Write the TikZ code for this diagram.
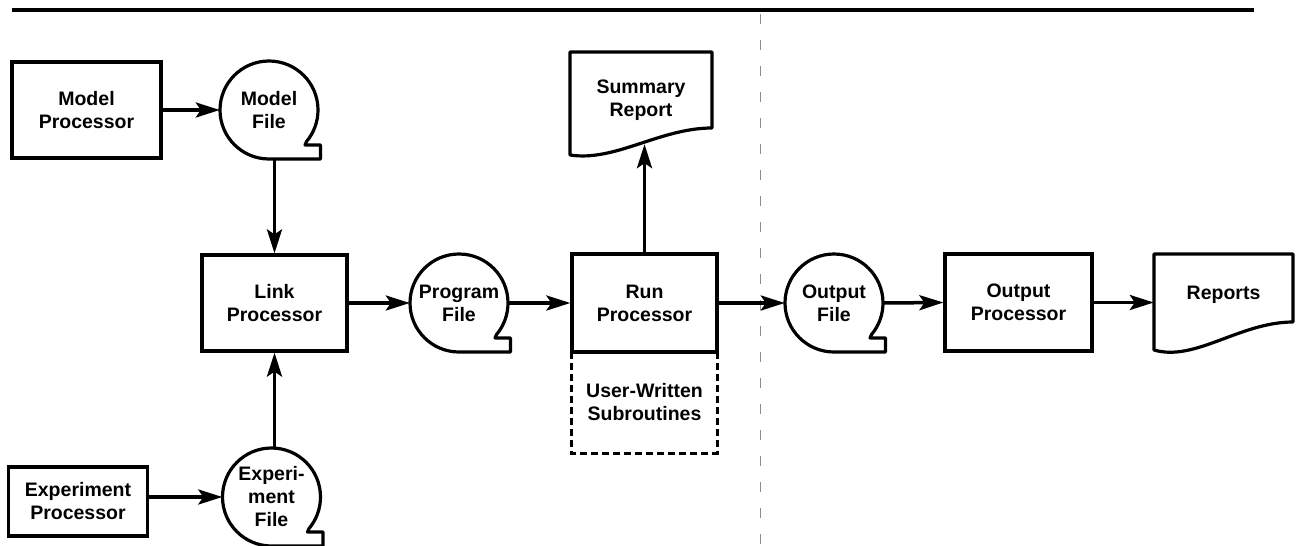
\documentclass[tikz,border=0pt]{standalone}
\usepackage{fontspec}
\setmainfont{Liberation Sans}
\usetikzlibrary{arrows.meta}

% magnetic-tape file symbol: circle with a squared tail at the lower right
\newcommand\tapefile[4]{%
  \node[filenode] (#1) at (#2,#3) {#4};
  \draw[outline] (#1.center) ++(0,49) arc[start angle=90,end angle=400,radius=49]
    -- ++(-1.5,3.5) -- ++(15.5,0) -- ++(0,14) -- cycle;}

\begin{document}
\begin{tikzpicture}[x=1pt,y=-1pt,
  lbl/.style={font=\bfseries\fontsize{19.5}{23}\selectfont, align=center},
  box/.style={lbl, draw, line width=3.2pt, inner sep=0pt},
  ghost/.style={lbl, inner sep=0pt},
  filenode/.style={lbl, circle, minimum size=98pt, inner sep=0pt},
  outline/.style={line width=3.2pt, line join=round},
  flow/.style={line width=3.5pt, -{Stealth[length=24pt,width=15pt,inset=5pt]}},
  userbox/.style={line width=3.2pt, dash pattern=on 7pt off 4pt},
]
\useasboundingbox (0,0) rectangle (1301,546);

% heading rule
\coordinate (ruleL) at (12,10);
\coordinate (ruleR) at (1254,10);
\draw[line width=4pt] (ruleL) -- (ruleR);

% faint fold line
\coordinate (foldT) at (760,14);
\coordinate (foldB) at (760,546);
\draw[black!45, line width=0.8pt, dash pattern=on 10pt off 16pt] (foldT) -- (foldB);

% processors
\node[box, minimum width=149pt, minimum height=96pt] (mproc) at (86.5,110) {Model\\Processor};
\node[box, minimum width=139pt, minimum height=69pt] (eproc) at (78,501.5) {Experiment\\Processor};
\node[box, minimum width=145pt, minimum height=96pt] (link) at (274.5,303) {Link\\Processor};
\node[box, minimum width=145pt, minimum height=98pt] (run) at (644.5,303) {Run\\Processor};
\node[box, minimum width=147pt, minimum height=97pt] (oproc) at (1018.5,302.5) {Output\\Processor};

% user-written subroutines hanging below the run processor
\node[ghost, minimum width=145pt, minimum height=101pt] (user) at (644.5,402.5) {User-Written\\Subroutines};
\draw[userbox] (user.north west) -- (user.south west) -- (user.south east) -- (user.north east);

% files
\tapefile{mfile}{269}{110}{Model\\File}
\tapefile{efile}{271.5}{497}{Experi-\\ment\\File}
\tapefile{pfile}{459}{303}{Program\\File}
\tapefile{ofile}{834}{303}{Output\\File}

% printed documents
\draw[outline] (570,52) -- (712,52) -- (712,128)
  .. controls (660,128) and (615,162) .. coordinate[pos=0.5] (sumwave) (570,155) -- cycle;
\node[ghost, minimum width=142pt] (summary) at (641,100) {Summary\\Report};

\draw[outline] (1154,254) -- (1293,254) -- (1293,322)
  .. controls (1240,322) and (1195,362) .. (1154,350) -- cycle;
\node[ghost, minimum width=139pt, minimum height=98pt] (reports) at (1223.5,295) {Reports};

% flows
\draw[flow] (mproc.east) -- (mfile.west);
\draw[flow] (eproc.east |- efile.west) -- (efile.west);
\draw[flow] (link.north |- mfile.south) -- (link.north);
\draw[flow] (link.south |- efile.north) -- (link.south);
\draw[flow] (link.east) -- (pfile.west);
\draw[flow] (pfile.east) -- (run.west);
\draw[flow] (run.north) -- (run.north |- sumwave);
\draw[flow] (run.east) -- (ofile.west);
\draw[flow] (ofile.east) -- (oproc.west);
\draw[flow] (oproc.east) -- (oproc.east -| reports.west);
\end{tikzpicture}
\end{document}
